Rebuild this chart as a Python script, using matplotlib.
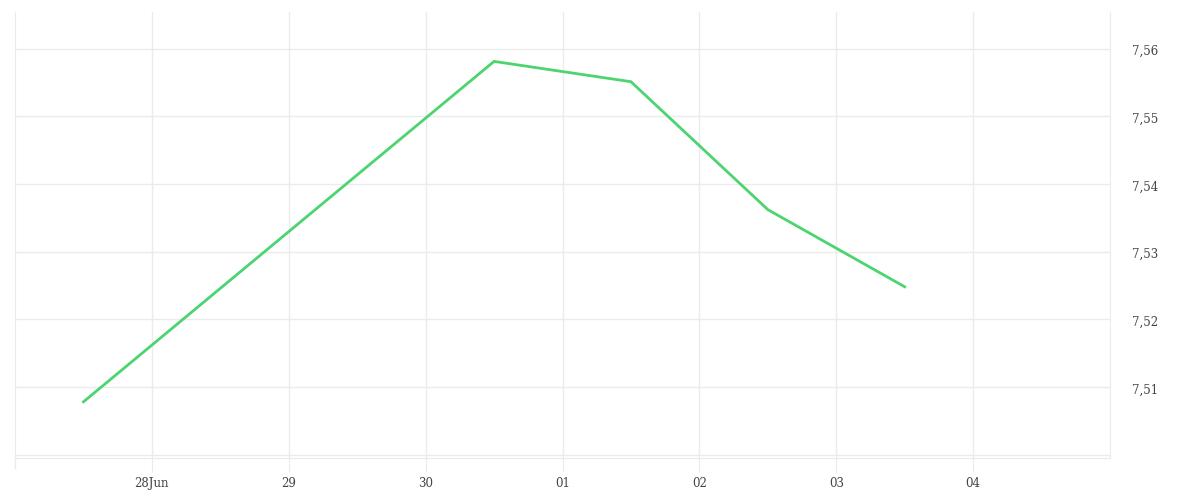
import matplotlib.pyplot as plt
import matplotlib.dates as mdates
import pandas as pd

# data
dates = ['2024-06-27 12:00', '2024-06-30 12:00', '2024-07-01 12:00',
         '2024-07-02 12:00', '2024-07-03 12:00']
values = [7.5078, 7.5581, 7.5551, 7.5362, 7.5248]
tick_dates = ['2024-06-28', '2024-06-29', '2024-06-30', '2024-07-01',
              '2024-07-02', '2024-07-03', '2024-07-04']
tick_labels = ['28Jun', '29', '30', '01', '02', '03', '04']
y_ticks = [7.50, 7.51, 7.52, 7.53, 7.54, 7.55, 7.56]
y_labels = ['', '7,51', '7,52', '7,53', '7,54', '7,55', '7,56']

x = pd.to_datetime(dates)
xt = pd.to_datetime(tick_dates)

fig = plt.figure(figsize=(12, 5), dpi=100)
ax = fig.add_axes([15/1200, 42/500, 1095/1200, 446/500])

grid_c = '#ebebeb'
ax.plot(x, values, color='#4cd471', lw=2, solid_joinstyle='miter', zorder=3)

ax.set_xlim(pd.Timestamp('2024-06-27 00:00'), pd.Timestamp('2024-07-05 00:00'))
ax.set_ylim(7.4995, 7.5654)

ax.set_xticks(xt)
ax.set_xticklabels(tick_labels)
ax.set_yticks(y_ticks)
ax.set_yticklabels(y_labels)
ax.yaxis.tick_right()

ax.grid(True, color=grid_c, lw=1)
ax.spines['top'].set_visible(False)
ax.spines['bottom'].set_color(grid_c)
ax.spines['left'].set_color(grid_c)
ax.spines['right'].set_color(grid_c)

ax.tick_params(axis='x', length=10, color=grid_c, labelsize=8.5, labelcolor='#444444', pad=4)
ax.tick_params(axis='y', length=0, labelsize=8.5, labelcolor='#444444', pad=16)
for lab in ax.get_xticklabels() + ax.get_yticklabels():
    lab.set_family('DejaVu Serif')
for lab in ax.get_yticklabels():
    lab.set_verticalalignment('center')
    lab.set_transform(lab.get_transform() + plt.matplotlib.transforms.ScaledTranslation(0, -3/100, fig.dpi_scale_trans))

# left border runs past the bottom like the gridlines
ax.plot([0, 0], [-10/446, 0], transform=ax.transAxes, color=grid_c, lw=1, clip_on=False)

fig.savefig('out.png', facecolor='w')
